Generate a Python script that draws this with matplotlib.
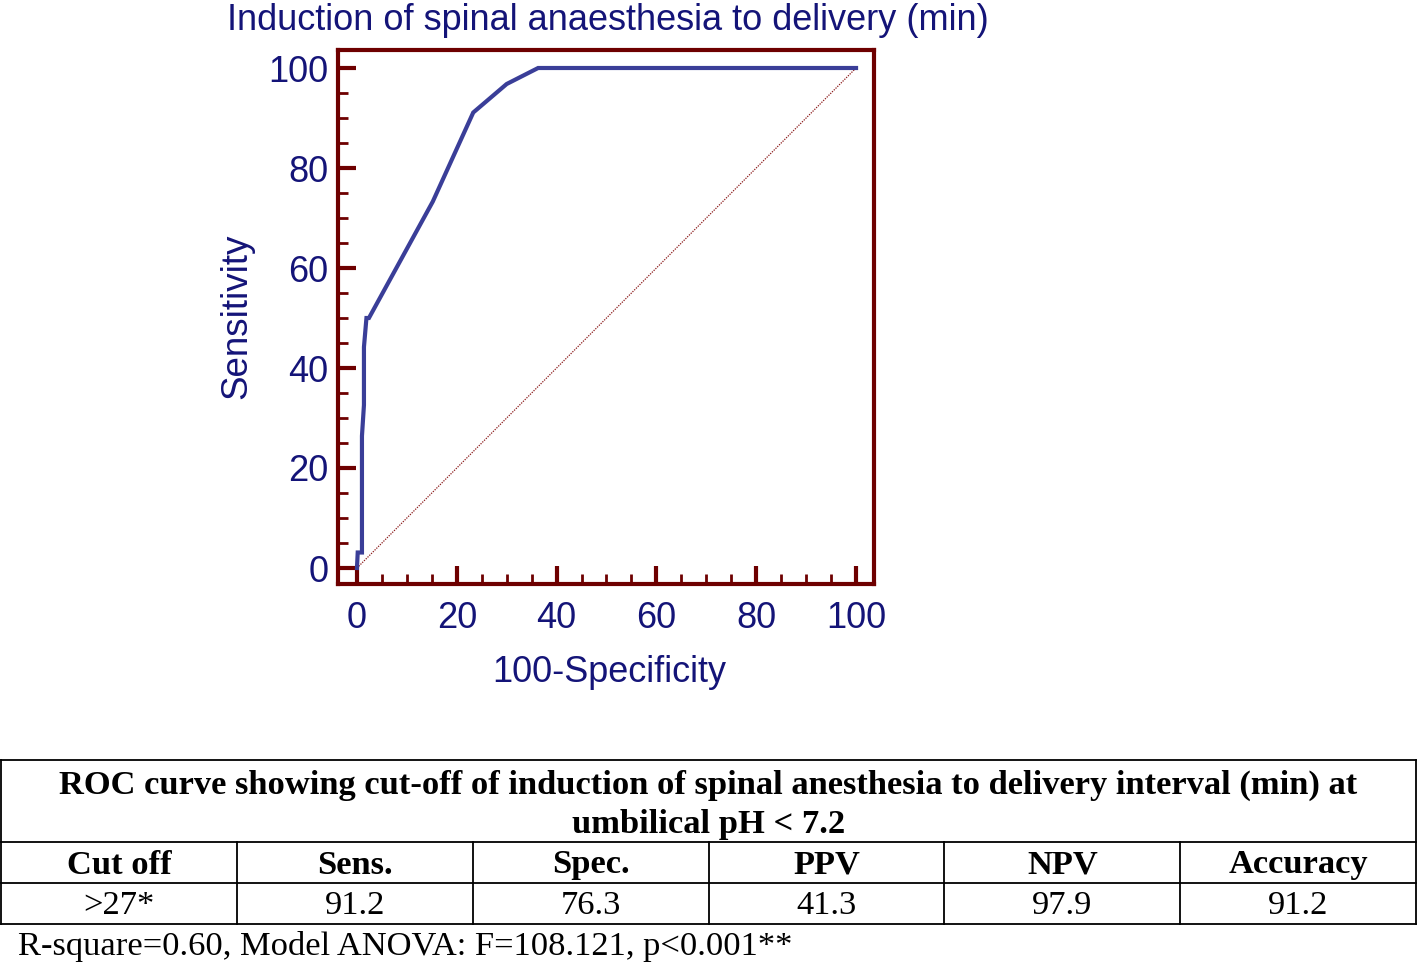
import matplotlib
matplotlib.use("Agg")
import matplotlib.pyplot as plt
from matplotlib.ticker import MultipleLocator

# ---- ROC data (100-Specificity, Sensitivity) ----
fpr = [0.0, 0.15, 1.0, 1.0, 1.4, 1.4, 1.9, 2.4, 15.2, 23.3, 30.0, 36.3, 100.0]
tpr = [0.0, 3.1, 3.1, 26.4, 32.6, 44.2, 50.0, 50.0, 73.3, 91.1, 96.8, 100.0, 100.0]
ref_line = [0, 100]

title = "Induction of spinal anaesthesia to delivery (min)"
xlabel = "100-Specificity"
ylabel = "Sensitivity"
tick_values = [0, 20, 40, 60, 80, 100]

# ---- table data ----
table_title = ["ROC curve showing cut-off of induction of spinal anesthesia to delivery interval (min) at",
               "umbilical pH < 7.2"]
col_headers = ["Cut off", "Sens.", "Spec.", "PPV", "NPV", "Accuracy"]
row_values = [">27*", "91.2", "76.3", "41.3", "97.9", "91.2"]
footnote = "R-square=0.60, Model ANOVA: F=108.121, p<0.001**"

W, H = 1424, 964
fig = plt.figure(figsize=(W / 100, H / 100), dpi=100)

navy = "#141478"
maroon = "#6E0000"
curve_c = "#3A3E98"
sans = ["Liberation Sans", "DejaVu Sans"]
serif = ["Liberation Serif", "DejaVu Serif"]

ax = fig.add_axes([338 / W, 1 - 584 / H, (874 - 338) / W, (584 - 50) / H])
ax.plot(ref_line, ref_line, color="#8B1A1A", lw=0.9, ls=(0, (1, 1)))
ax.plot(fpr, tpr, color=curve_c, lw=3.0, solid_joinstyle="miter")
ax.set_xlim(-3.8, 103.6)
ax.set_ylim(-3.2, 103.6)
for s in ax.spines.values():
    s.set_color(maroon)
    s.set_linewidth(3)
ax.xaxis.set_major_locator(MultipleLocator(20))
ax.yaxis.set_major_locator(MultipleLocator(20))
ax.xaxis.set_minor_locator(MultipleLocator(5))
ax.yaxis.set_minor_locator(MultipleLocator(5))
ax.tick_params(which="major", direction="in", length=13, width=3, color=maroon,
               labelsize=26, labelcolor=navy, top=False, right=False)
ax.tick_params(which="minor", direction="in", length=7, width=2, color=maroon,
               top=False, right=False)
ax.tick_params(axis="y", which="major", pad=7)
ax.tick_params(axis="x", which="major", pad=12)
ax.set_xticks(tick_values)
ax.set_yticks(tick_values)
ax.set_xticklabels([str(v) for v in tick_values], family=sans)
ax.set_yticklabels([str(v) for v in tick_values], family=sans)

fig.text(608 / W, 1 - 20 / H, title, ha="center", va="center", fontsize=26, color=navy, family=sans)
fig.text(609 / W, 1 - 672 / H, xlabel, ha="center", va="center", fontsize=26, color=navy, family=sans)
fig.text(237 / W, 1 - 316 / H, ylabel, ha="center", va="center", rotation=90, fontsize=26.5,
         color=navy, family=sans)

# ---- table ----
tax = fig.add_axes([0, 0, 1, 1])
tax.set_xlim(0, W)
tax.set_ylim(H, 0)
tax.axis("off")
lw = 1.3
x0, x1 = 1, 1416
y_top, y_r1, y_r2, y_bot = 760, 842, 883, 924
ncol = len(col_headers)
cw = (x1 - x0) / ncol
for y in (y_top, y_r1, y_r2, y_bot):
    tax.plot([x0, x1], [y, y], color="black", lw=lw)
tax.plot([x0, x0], [y_top, y_bot], color="black", lw=lw)
tax.plot([x1, x1], [y_top, y_bot], color="black", lw=lw)
for i in range(1, ncol):
    tax.plot([x0 + i * cw] * 2, [y_r1, y_bot], color="black", lw=lw)

fs = 24.8
tax.text((x0 + x1) / 2, 785, table_title[0], ha="center", va="center", fontsize=fs,
         fontweight="bold", family=serif)
tax.text((x0 + x1) / 2, 824, table_title[1], ha="center", va="center", fontsize=fs,
         fontweight="bold", family=serif)
for i, (h, v) in enumerate(zip(col_headers, row_values)):
    cx = x0 + (i + 0.5) * cw
    tax.text(cx, 865, h, ha="center", va="center", fontsize=fs, fontweight="bold", family=serif)
    tax.text(cx, 906, v, ha="center", va="center", fontsize=fs, family=serif)
tax.text(18, 947, footnote, ha="left", va="center", fontsize=fs, family=serif)

fig.savefig("out.png", dpi=100, facecolor="white")
